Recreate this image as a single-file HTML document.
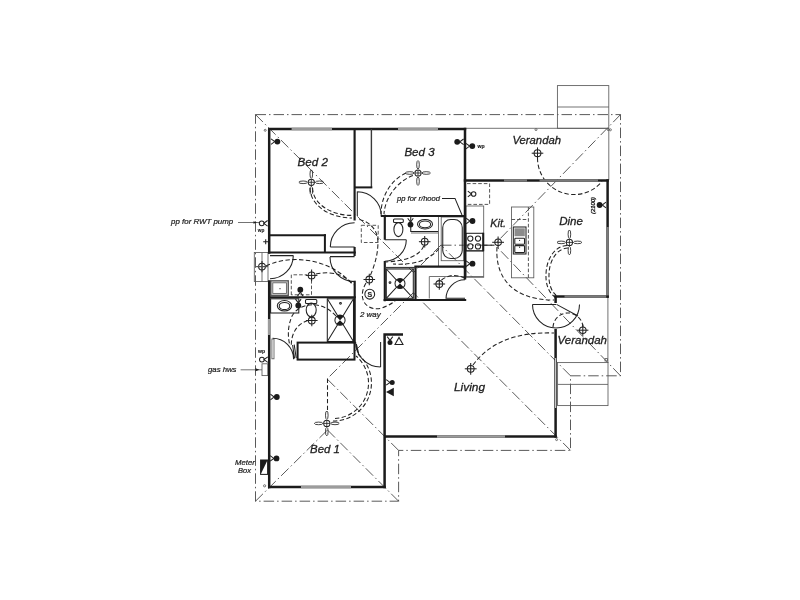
<!DOCTYPE html>
<html><head><meta charset="utf-8"><title>Floor plan</title><style>
html,body{margin:0;padding:0;background:#fff;}
body{width:800px;height:600px;overflow:hidden;font-family:"Liberation Sans",sans-serif;}
svg{display:block;filter:grayscale(1);}
.w{stroke:#1b1b1b;stroke-width:2.5;fill:none;stroke-linecap:butt;}
.w2{stroke:#1b1b1b;stroke-width:2;fill:none;}
.wi{stroke:#1b1b1b;stroke-width:2.15;fill:none;}
.m2{stroke:#555;stroke-width:1.3;fill:#ddd;}
.m{stroke:#3a3a3a;stroke-width:1.4;fill:none;}
.g{stroke:#9c9c9c;stroke-width:2.5;fill:none;}
.g3{stroke:#7a7a7a;stroke-width:2.5;fill:none;}
.g2{stroke:#c8c8c8;stroke-width:1.2;fill:none;}
.t{stroke:#222;stroke-width:1.05;fill:none;}
.t2{stroke:#222;stroke-width:0.85;fill:none;}
.tw{stroke:#222;stroke-width:1.05;fill:#fff;}
.tgw{stroke:#5a5a5a;stroke-width:0.85;fill:#fff;}
.tg{stroke:#5a5a5a;stroke-width:0.85;fill:none;}
.f{fill:#1b1b1b;stroke:none;}
.gf{fill:#8c8c8c;stroke:none;}
.dd{stroke:#3c3c3c;stroke-width:0.85;fill:none;stroke-dasharray:10.5 3 1.5 3;}
.da{stroke:#222;stroke-width:1.05;fill:none;stroke-dasharray:4.4 2.4;}
.da2{stroke:#444;stroke-width:0.9;fill:none;stroke-dasharray:3.6 2;}
text{font-family:"Liberation Sans",sans-serif;}
.lb{font-style:italic;fill:#1e1e1e;stroke:#1e1e1e;stroke-width:0.3;}
.ls{font-style:italic;fill:#222;stroke:#222;stroke-width:0.22;}
.wp{font-weight:bold;fill:#222;stroke:#222;stroke-width:0.15;}
.wp2{fill:#222;}
</style></head>
<body><svg width="800" height="600" viewBox="0 0 800 600">
<rect x="0" y="0" width="800" height="600" fill="#ffffff"/>
<path d="M255.5,114.6 H620.5 V375.8 H570.5 V450.4 H398.6 V501.2 H255.5 Z" class="dd"/>
<line x1="255.5" y1="114.6" x2="413.5" y2="272.5" class="dd"/>
<line x1="620.5" y1="114.6" x2="496" y2="243" class="dd"/>
<line x1="620.5" y1="375.8" x2="496" y2="246" class="dd"/>
<line x1="441" y1="245.2" x2="494" y2="245.2" class="dd"/>
<line x1="570.5" y1="375.8" x2="441" y2="245.2" class="dd"/>
<line x1="441" y1="245" x2="413.5" y2="272.5" class="dd"/>
<line x1="570.5" y1="450.4" x2="413.5" y2="292.9" class="dd"/>
<line x1="413.5" y1="292.5" x2="327.5" y2="378.5" class="dd"/>
<line x1="398.6" y1="450.4" x2="327.5" y2="379.3" class="dd"/>
<line x1="255.5" y1="501.2" x2="327.5" y2="430" class="dd"/>
<line x1="398.6" y1="501.2" x2="327.5" y2="430" class="dd"/>
<line x1="327.5" y1="378.5" x2="327.5" y2="412" class="da"/>
<path d="M466,128.3 H608.8 V180" class="tg"/>
<line x1="607.9" y1="296.6" x2="607.9" y2="363" class="tg"/>
<rect x="557.4" y="85.6" width="51.4" height="42.7" rx="0" class="tg"/>
<line x1="557.4" y1="107" x2="608.8" y2="107" class="tg"/>
<rect x="557.6" y="362.6" width="50.4" height="43.0" rx="0" class="tg"/>
<line x1="557.6" y1="384.4" x2="608" y2="384.4" class="tg"/>
<rect x="254.3" y="252.5" width="13.7" height="29.0" rx="0" class="tg"/>
<line x1="262" y1="252.5" x2="262" y2="281.5" class="tg"/>
<rect x="262" y="363.8" width="5.8" height="11.8" rx="0" class="tg"/>
<rect x="260.6" y="460" width="7.0" height="14.4" rx="0" class="t"/>
<path d="M260.6,460 L267.6,460 L260.6,474.4 Z" class="f"/>
<circle cx="536" cy="129.6" r="1" class="tg"/>
<circle cx="608.2" cy="129.6" r="1" class="tg"/>
<circle cx="610.4" cy="129.8" r="1" class="tg"/>
<circle cx="556.6" cy="439.6" r="1" class="tg"/>
<circle cx="264.6" cy="485.8" r="1.1" class="tg"/>
<circle cx="265.2" cy="130.3" r="1" class="tg"/>
<rect x="605" y="358.6" width="2.4" height="2.4" rx="0" class="tg"/>
<rect x="393.5" y="219" width="9.8" height="3.4" rx="1" class="t"/>
<ellipse cx="398.4" cy="229.6" rx="4.5" ry="7" class="t"/>
<path d="M410.75,217 V231.5 H438.3" class="t"/>
<line x1="411" y1="233" x2="438.3" y2="233" class="tg"/>
<ellipse cx="425" cy="224.2" rx="7.5" ry="4.8" class="t"/>
<ellipse cx="425" cy="224.4" rx="5.6" ry="3.3" class="t"/>
<line x1="438.5" y1="217" x2="438.5" y2="267" class="tg"/>
<rect x="441.2" y="217" width="22.6" height="43.7" rx="0" class="tg"/>
<rect x="442.75" y="219.5" width="19.5" height="39.0" rx="8" class="t"/>
<rect x="466" y="206" width="17.7" height="71.3" rx="0" class="tg"/>
<line x1="466" y1="251.2" x2="483.7" y2="251.2" class="tg"/>
<line x1="466" y1="276.5" x2="483.7" y2="276.5" class="tg"/>
<rect x="466" y="233.3" width="17.3" height="17.4" rx="0" class="t"/>
<line x1="483.2" y1="232.8" x2="483.2" y2="251.2" class="w2"/>
<circle cx="470.3" cy="238.6" r="2.6" class="t"/>
<circle cx="470.3" cy="246.4" r="2.6" class="t"/>
<circle cx="478" cy="238.6" r="2.6" class="t"/>
<circle cx="478" cy="246.4" r="2.6" class="t"/>
<rect x="511.5" y="207" width="22.3" height="70.8" rx="0" class="tg"/>
<line x1="528.4" y1="207" x2="528.4" y2="277.8" class="da2"/>
<line x1="511.5" y1="219.5" x2="528.4" y2="219.5" class="da2"/>
<rect x="513.3" y="227" width="12.7" height="27" rx="0" class="t"/>
<rect x="514.5" y="228.3" width="10.3" height="7.9" rx="0" class="gf"/>
<rect x="514.8" y="238.3" width="9.7" height="6.0" rx="0.8" class="t"/>
<rect x="514.8" y="245.6" width="9.7" height="7.0" rx="0.8" class="t"/>
<circle cx="519.6" cy="240.3" r="0.6" class="f"/>
<circle cx="519.6" cy="247.2" r="0.6" class="f"/>
<path d="M467,183.6 H489.6 V204.4 H467" class="da2"/>
<circle cx="473.6" cy="194" r="2.3" class="t"/>
<path d="M467.8,191.2 L471.6,194 L467.8,196.8" class="t"/>
<rect x="361.3" y="225.3" width="16.9" height="17.2" rx="0" class="da2"/>
<rect x="270.8" y="280.8" width="17.5" height="14.6" rx="0" class="m2"/>
<rect x="272.8" y="282.8" width="13.6" height="10.6" rx="0" class="tgw"/>
<circle cx="280" cy="288.7" r="0.6" class="f"/>
<path d="M291.3,295 V274.8 H307 M311.5,280 V294.8 H291.3" class="da2"/>
<rect x="270.6" y="298.8" width="28.2" height="14.2" rx="0" class="t"/>
<ellipse cx="284.5" cy="305.8" rx="7.2" ry="5.2" class="t"/>
<ellipse cx="284.5" cy="306" rx="5.3" ry="3.6" class="t"/>
<rect x="305.5" y="299.5" width="11.3" height="3.9" rx="1" class="t"/>
<ellipse cx="311.2" cy="310" rx="5" ry="6.9" class="t"/>
<rect x="327.3" y="298.8" width="26.2" height="42.7" rx="0" class="t"/>
<path d="M327.3,298.8 L353.5,341.5 M353.5,298.8 L327.3,341.5" class="t"/>
<circle cx="340" cy="320.2" r="5.1" class="tw"/>
<path d="M340,320.2 L336.39379,316.59379 A5.1,5.1 0 0 1 343.60621,316.59379 Z M340,320.2 L336.39379,323.80620999999996 A5.1,5.1 0 0 0 343.60621,323.80620999999996 Z" class="f"/>
<circle cx="340.5" cy="303.3" r="0.9" class="t"/>
<rect x="386.3" y="269" width="27.0" height="29.3" rx="0" class="t"/>
<path d="M386.3,269 L413.3,298.3 M413.3,269 L386.3,298.3" class="t"/>
<circle cx="400" cy="283.5" r="5.0" class="tw"/>
<path d="M400,283.5 L396.4645,279.9645 A5.0,5.0 0 0 1 403.5355,279.9645 Z M400,283.5 L396.4645,287.0355 A5.0,5.0 0 0 0 403.5355,287.0355 Z" class="f"/>
<circle cx="390" cy="282.6" r="0.9" class="t"/>
<path d="M429.3,298.5 V276.5 H464" class="tg"/>
<path d="M330.3,247 H354.6 M330.3,247 A24.3,24.3 0 0 1 354.6,222.7" class="t"/>
<path d="M330,256.6 H354.6 M330,257 A24.6,24.6 0 0 0 354.6,281.6" class="t"/>
<path d="M270,255.6 H293.3 M293.3,255.5 A23.3,23.3 0 0 1 270,278.8" class="t"/>
<path d="M357.3,191.6 V216 M357.3,191.8 A24,24 0 0 1 381.3,215.8" class="t"/>
<path d="M384.8,239.7 H406.3 M406.3,239.7 A21.5,21.5 0 0 1 384.8,261.2" class="t"/>
<path d="M446,298.2 H465 M446,298.7 A19,19 0 0 1 465,279.7" class="t"/>
<rect x="271.9" y="339" width="2.1" height="19.8" rx="0" class="tg"/>
<path d="M272.6,338.2 A21,21 0 0 1 293.6,359.2 M292.6,345 L294.6,358.5 M294.2,344.6 L296.2,358" class="t"/>
<path d="M380.6,342 V367 M380.6,367 A25,25 0 0 1 355.6,342 M356.4,344 L358.6,353" class="t"/>
<path d="M532.5,304.4 H556 M556.5,304.4 L578,316 M532.5,304.4 A23.5,23.5 0 0 0 556,327.9 A23.5,23.5 0 0 0 579.5,304.4" class="t"/>
<path d="M310,188 A42,30 0 0 0 352,218" class="da"/>
<path d="M312.6,188 A39.4,27.4 0 0 0 352,215.4" class="da"/>
<path d="M406,173 C391,180 381,196 381,214" class="da"/>
<path d="M412.9,175.4 C398,181 385,197 384,214" class="da"/>
<path d="M537.5,158 A36.5,36.5 0 0 0 602,181.5" class="da"/>
<path d="M567,245.5 A21,29.5 0 0 0 546,275 A14,22 0 0 0 555,297" class="da"/>
<path d="M568,248 A19,27 0 0 0 549,275 A12,20 0 0 0 556,295" class="da"/>
<path d="M497,247 C495,275 510,300 554,300" class="da"/>
<path d="M473,365 Q498,331 554,333" class="da"/>
<path d="M583,327 A15,15 0 0 0 553,329" class="da"/>
<path d="M423.7,246 Q418,260 386,262" class="da"/>
<path d="M439,248.5 Q425,266 393,264" class="da"/>
<path d="M441.5,280 Q452,272 464.5,278" class="da"/>
<path d="M370.5,275 C376,262 378.5,250 377.8,240 C377,228 368,221 357.5,219" class="da"/>
<path d="M366,283 C356,300 368,312 382,308 C390,305 394,302 396,300" class="da"/>
<path d="M316,274 C335,270 347,277 353.5,285" class="da"/>
<path d="M266,266 C290,254 330,258 352,284" class="da"/>
<path d="M308,320.5 C296,324 291,335 291.3,346" class="da"/>
<path d="M336,316 C322,300 300,302 292,316 C287,328 288,338 290,346" class="da"/>
<path d="M333,421 A38,38 0 0 0 358,354" class="da"/>
<path d="M335,418.5 A35.5,35.5 0 0 0 356,356" class="da"/>
<path d="M442,198.4 H455 L462,215" class="t"/>
<path d="M238,222.5 H259" class="tg"/>
<path d="M253.5,221.3 L257,222.5 L253.5,223.7 Z" class="f"/>
<path d="M240.6,369.8 H262" class="tg"/>
<path d="M255.5,368.3 L259.5,369.8 L255.5,371.3 Z" class="f"/>
<path d="M263.2,241.7 H268.2 M265.7,239.2 V244.2" class="t"/>
<line x1="483.5" y1="245.2" x2="494.5" y2="245.2" class="t"/>
<path d="M268.05,129 H466.2" class="w"/>
<line x1="291.6" y1="129" x2="332" y2="129" class="g"/>
<line x1="398" y1="129" x2="438" y2="129" class="g"/>
<path d="M269.2,129 V253.7 M269.2,280.3 V488.2" class="w"/>
<line x1="269.2" y1="319" x2="269.2" y2="335" class="g"/>
<path d="M268.05,487 H385.8" class="w"/>
<line x1="301" y1="487" x2="351" y2="487" class="g"/>
<path d="M384.6,333.2 V488.2 M383.4,334.4 H403" class="w"/>
<path d="M384.6,436.6 H556.8" class="w"/>
<line x1="437" y1="436.6" x2="505" y2="436.6" class="g"/>
<path d="M555.6,295.4 V303 M555.6,329 V437.8" class="w"/>
<line x1="555.6" y1="358" x2="555.6" y2="408" class="g2"/>
<path d="M554.4,296.6 H608.8" class="w"/>
<line x1="564.5" y1="296.6" x2="606.4" y2="296.6" class="g3"/>
<path d="M607.6,179.2 V297.8" class="w"/>
<line x1="607.6" y1="227" x2="607.6" y2="295.4" class="g3"/>
<path d="M463.8,180.4 H608.8" class="w"/>
<line x1="504" y1="180.4" x2="527" y2="180.4" class="g3"/>
<line x1="539.5" y1="180.4" x2="598" y2="180.4" class="g3"/>
<path d="M465,127.8 V279.6" class="w"/>
<path d="M354.6,129 V220.5 M354.6,247 V256" class="wi"/>
<path d="M371.4,129 V187.4" class="m"/>
<path d="M354.6,187.4 H372.3" class="w2"/>
<path d="M380.8,216 H466" class="wi"/>
<path d="M384.8,214.8 V239.7 M384.8,261 V301.2" class="wi"/>
<path d="M383.6,300 H466.2" class="wi"/>
<path d="M414.3,266.6 H466.2 M415.5,266.6 V300" class="wi"/>
<path d="M384.8,267.6 H415.5" class="m"/>
<path d="M465,279.6 V279.6" class="w"/>
<path d="M269.6,235.2 H326" class="w2"/>
<path d="M324.9,234.2 V252.5" class="w2"/>
<path d="M268.05,252.5 H355.8" class="wi"/>
<path d="M268.05,297.2 H355.8" class="wi"/>
<path d="M354.7,280.7 V343.4" class="wi"/>
<rect x="297.6" y="342.6" width="56.9" height="17.0" rx="0" class="w2"/>
<circle cx="537.5" cy="153.2" r="3.4" class="t"/>
<line x1="531.7" y1="153.2" x2="543.3" y2="153.2" class="t"/>
<line x1="537.5" y1="147.39999999999998" x2="537.5" y2="159.0" class="t"/>
<circle cx="498.1" cy="242.3" r="3.3" class="t"/>
<line x1="492.20000000000005" y1="242.3" x2="504.0" y2="242.3" class="t"/>
<line x1="498.1" y1="236.4" x2="498.1" y2="248.20000000000002" class="t"/>
<circle cx="424.7" cy="241.7" r="3.4" class="t"/>
<line x1="418.9" y1="241.7" x2="430.5" y2="241.7" class="t"/>
<line x1="424.7" y1="235.89999999999998" x2="424.7" y2="247.5" class="t"/>
<circle cx="439.3" cy="284" r="3.4" class="t"/>
<line x1="433.5" y1="284" x2="445.1" y2="284" class="t"/>
<line x1="439.3" y1="278.2" x2="439.3" y2="289.8" class="t"/>
<circle cx="369.3" cy="279.5" r="3.4" class="t"/>
<line x1="363.5" y1="279.5" x2="375.1" y2="279.5" class="t"/>
<line x1="369.3" y1="273.7" x2="369.3" y2="285.3" class="t"/>
<circle cx="311.6" cy="275.4" r="3.4" class="t"/>
<line x1="305.8" y1="275.4" x2="317.40000000000003" y2="275.4" class="t"/>
<line x1="311.6" y1="269.59999999999997" x2="311.6" y2="281.2" class="t"/>
<circle cx="262" cy="266.6" r="3.4" class="t"/>
<line x1="256.4" y1="266.6" x2="267.6" y2="266.6" class="t"/>
<line x1="262" y1="261.0" x2="262" y2="272.20000000000005" class="t"/>
<line x1="255" y1="266.6" x2="268" y2="266.6" class="tg"/>
<circle cx="311.8" cy="320.5" r="3.4" class="t"/>
<line x1="306.0" y1="320.5" x2="317.6" y2="320.5" class="t"/>
<line x1="311.8" y1="314.7" x2="311.8" y2="326.3" class="t"/>
<circle cx="470.7" cy="368.8" r="3.4" class="t"/>
<line x1="464.8" y1="368.8" x2="476.59999999999997" y2="368.8" class="t"/>
<line x1="470.7" y1="362.90000000000003" x2="470.7" y2="374.7" class="t"/>
<circle cx="582.8" cy="330.2" r="3.3" class="t"/>
<line x1="577.1999999999999" y1="330.2" x2="588.4" y2="330.2" class="t"/>
<line x1="582.8" y1="324.59999999999997" x2="582.8" y2="335.8" class="t"/>
<circle cx="311.3" cy="182.3" r="3.1" class="t"/>
<line x1="308.2" y1="182.3" x2="314.40000000000003" y2="182.3" class="t2"/>
<line x1="311.3" y1="179.20000000000002" x2="311.3" y2="185.4" class="t2"/>
<ellipse cx="303.1" cy="182.3" rx="4.2" ry="1.3" class="t2"/>
<ellipse cx="319.5" cy="182.3" rx="4.2" ry="1.3" class="t2"/>
<ellipse cx="311.3" cy="174.10000000000002" rx="1.3" ry="4.2" class="t2"/>
<ellipse cx="311.3" cy="190.5" rx="1.3" ry="4.2" class="t2"/>
<circle cx="418" cy="173" r="3.1" class="t"/>
<line x1="414.9" y1="173" x2="421.1" y2="173" class="t2"/>
<line x1="418" y1="169.9" x2="418" y2="176.1" class="t2"/>
<ellipse cx="409.8" cy="173" rx="4.2" ry="1.3" class="t2"/>
<ellipse cx="426.2" cy="173" rx="4.2" ry="1.3" class="t2"/>
<ellipse cx="418" cy="164.8" rx="1.3" ry="4.2" class="t2"/>
<ellipse cx="418" cy="181.2" rx="1.3" ry="4.2" class="t2"/>
<circle cx="569.4" cy="242.4" r="3.1" class="t"/>
<line x1="566.3" y1="242.4" x2="572.5" y2="242.4" class="t2"/>
<line x1="569.4" y1="239.3" x2="569.4" y2="245.5" class="t2"/>
<ellipse cx="561.1999999999999" cy="242.4" rx="4.2" ry="1.3" class="t2"/>
<ellipse cx="577.6" cy="242.4" rx="4.2" ry="1.3" class="t2"/>
<ellipse cx="569.4" cy="234.20000000000002" rx="1.3" ry="4.2" class="t2"/>
<ellipse cx="569.4" cy="250.6" rx="1.3" ry="4.2" class="t2"/>
<circle cx="326.8" cy="423.4" r="3.1" class="t"/>
<line x1="323.7" y1="423.4" x2="329.90000000000003" y2="423.4" class="t2"/>
<line x1="326.8" y1="420.29999999999995" x2="326.8" y2="426.5" class="t2"/>
<ellipse cx="318.6" cy="423.4" rx="4.2" ry="1.3" class="t2"/>
<ellipse cx="335.0" cy="423.4" rx="4.2" ry="1.3" class="t2"/>
<ellipse cx="326.8" cy="415.2" rx="1.3" ry="4.2" class="t2"/>
<ellipse cx="326.8" cy="431.59999999999997" rx="1.3" ry="4.2" class="t2"/>
<circle cx="277.4" cy="141.6" r="2.9" class="f"/>
<path d="M270.99999999999994,138.79999999999998 L274.79999999999995,141.6 L270.99999999999994,144.4" class="t"/>
<circle cx="457.2" cy="141.8" r="2.9" class="f"/>
<path d="M463.6,139.0 L459.8,141.8 L463.6,144.60000000000002" class="t"/>
<circle cx="472.3" cy="146.1" r="2.9" class="f"/>
<path d="M465.9,143.29999999999998 L469.7,146.1 L465.9,148.9" class="t"/>
<circle cx="410.5" cy="224.6" r="2.9" class="f"/>
<path d="M407.7,218.2 L410.5,222.0 L413.3,218.2" class="t"/>
<circle cx="472.5" cy="221" r="2.9" class="f"/>
<path d="M466.09999999999997,218.2 L469.9,221 L466.09999999999997,223.8" class="t"/>
<circle cx="472.5" cy="263.7" r="2.9" class="f"/>
<path d="M466.09999999999997,260.9 L469.9,263.7 L466.09999999999997,266.5" class="t"/>
<circle cx="599.6" cy="205" r="2.9" class="f"/>
<path d="M606.0,202.2 L602.2,205 L606.0,207.8" class="t"/>
<circle cx="300.3" cy="289.7" r="2.9" class="f"/>
<path d="M297.5,296.1 L300.3,292.3 L303.1,296.1" class="t"/>
<circle cx="298.3" cy="305.5" r="2.9" class="f"/>
<path d="M295.5,299.09999999999997 L298.3,302.9 L301.1,299.09999999999997" class="t"/>
<circle cx="276.8" cy="397" r="2.9" class="f"/>
<path d="M270.4,394.2 L274.2,397 L270.4,399.8" class="t"/>
<circle cx="276.5" cy="458.4" r="2.9" class="f"/>
<path d="M270.09999999999997,455.59999999999997 L273.9,458.4 L270.09999999999997,461.2" class="t"/>
<circle cx="390" cy="342.6" r="2.5" class="f"/>
<path d="M387.2,336.6 L390,340.40000000000003 L392.8,336.6" class="t"/>
<circle cx="392.2" cy="382.4" r="2.5" class="f"/>
<path d="M386.2,379.59999999999997 L390.0,382.4 L386.2,385.2" class="t"/>
<circle cx="261.7" cy="223.3" r="2.4" class="t"/>
<path d="M267.6,220.5 L263.8,223.3 L267.6,226.10000000000002" class="t"/>
<circle cx="261.9" cy="359.6" r="2.4" class="t"/>
<path d="M267.8,356.8 L264.0,359.6 L267.8,362.40000000000003" class="t"/>
<path d="M395,344.4 L403,344.4 L399,337.4 Z" class="tw"/>
<path d="M386,392 L393.8,387.8 L393.8,396.2 Z" class="f"/>
<circle cx="369.75" cy="294.2" r="4.9" class="t"/>
<text x="297.6" y="166.3" font-size="11.6" textLength="30.4" lengthAdjust="spacingAndGlyphs" class="lb">Bed 2</text>
<text x="404.4" y="155.6" font-size="11.6" textLength="30.2" lengthAdjust="spacingAndGlyphs" class="lb">Bed 3</text>
<text x="512.4" y="144.4" font-size="11.6" textLength="48.6" lengthAdjust="spacingAndGlyphs" class="lb">Verandah</text>
<text x="490.3" y="226.9" font-size="11.6" textLength="15.7" lengthAdjust="spacingAndGlyphs" class="lb">Kit.</text>
<text x="559.2" y="224.6" font-size="11.6" textLength="23.8" lengthAdjust="spacingAndGlyphs" class="lb">Dine</text>
<text x="557.6" y="343.6" font-size="11.6" textLength="49.4" lengthAdjust="spacingAndGlyphs" class="lb">Verandah</text>
<text x="454" y="391.1" font-size="11.6" textLength="31" lengthAdjust="spacingAndGlyphs" class="lb">Living</text>
<text x="310" y="453" font-size="11.6" textLength="30" lengthAdjust="spacingAndGlyphs" class="lb">Bed 1</text>
<text x="360" y="317" font-size="7.8" textLength="20.6" lengthAdjust="spacingAndGlyphs" class="ls">2 way</text>
<text x="397" y="200.6" font-size="7.8" textLength="43" lengthAdjust="spacingAndGlyphs" class="ls">pp for r/hood</text>
<text x="171.1" y="224.1" font-size="7.7" textLength="62.1" lengthAdjust="spacingAndGlyphs" class="ls">pp for RWT pump</text>
<text x="208" y="372.3" font-size="7.8" textLength="28.5" lengthAdjust="spacingAndGlyphs" class="ls">gas hws</text>
<text x="235" y="465" font-size="7.6" textLength="19.8" lengthAdjust="spacingAndGlyphs" class="ls">Meter</text>
<text x="238" y="472.6" font-size="7.5" textLength="13" lengthAdjust="spacingAndGlyphs" class="ls">Box</text>
<text x="477.5" y="147.5" font-size="5.5" textLength="7.1" lengthAdjust="spacingAndGlyphs" class="wp">wp</text>
<text x="257.8" y="231.6" font-size="5.5" textLength="6.5" lengthAdjust="spacingAndGlyphs" class="wp">wp</text>
<text x="258" y="352.6" font-size="5.5" textLength="7" lengthAdjust="spacingAndGlyphs" class="wp">wp</text>
<text x="367.4" y="296.8" font-size="7" class="wp">S</text>
<text transform="translate(595.4,214) rotate(-90)" font-size="5" textLength="17" lengthAdjust="spacingAndGlyphs" class="lb">(2100)</text>
</svg></body></html>
